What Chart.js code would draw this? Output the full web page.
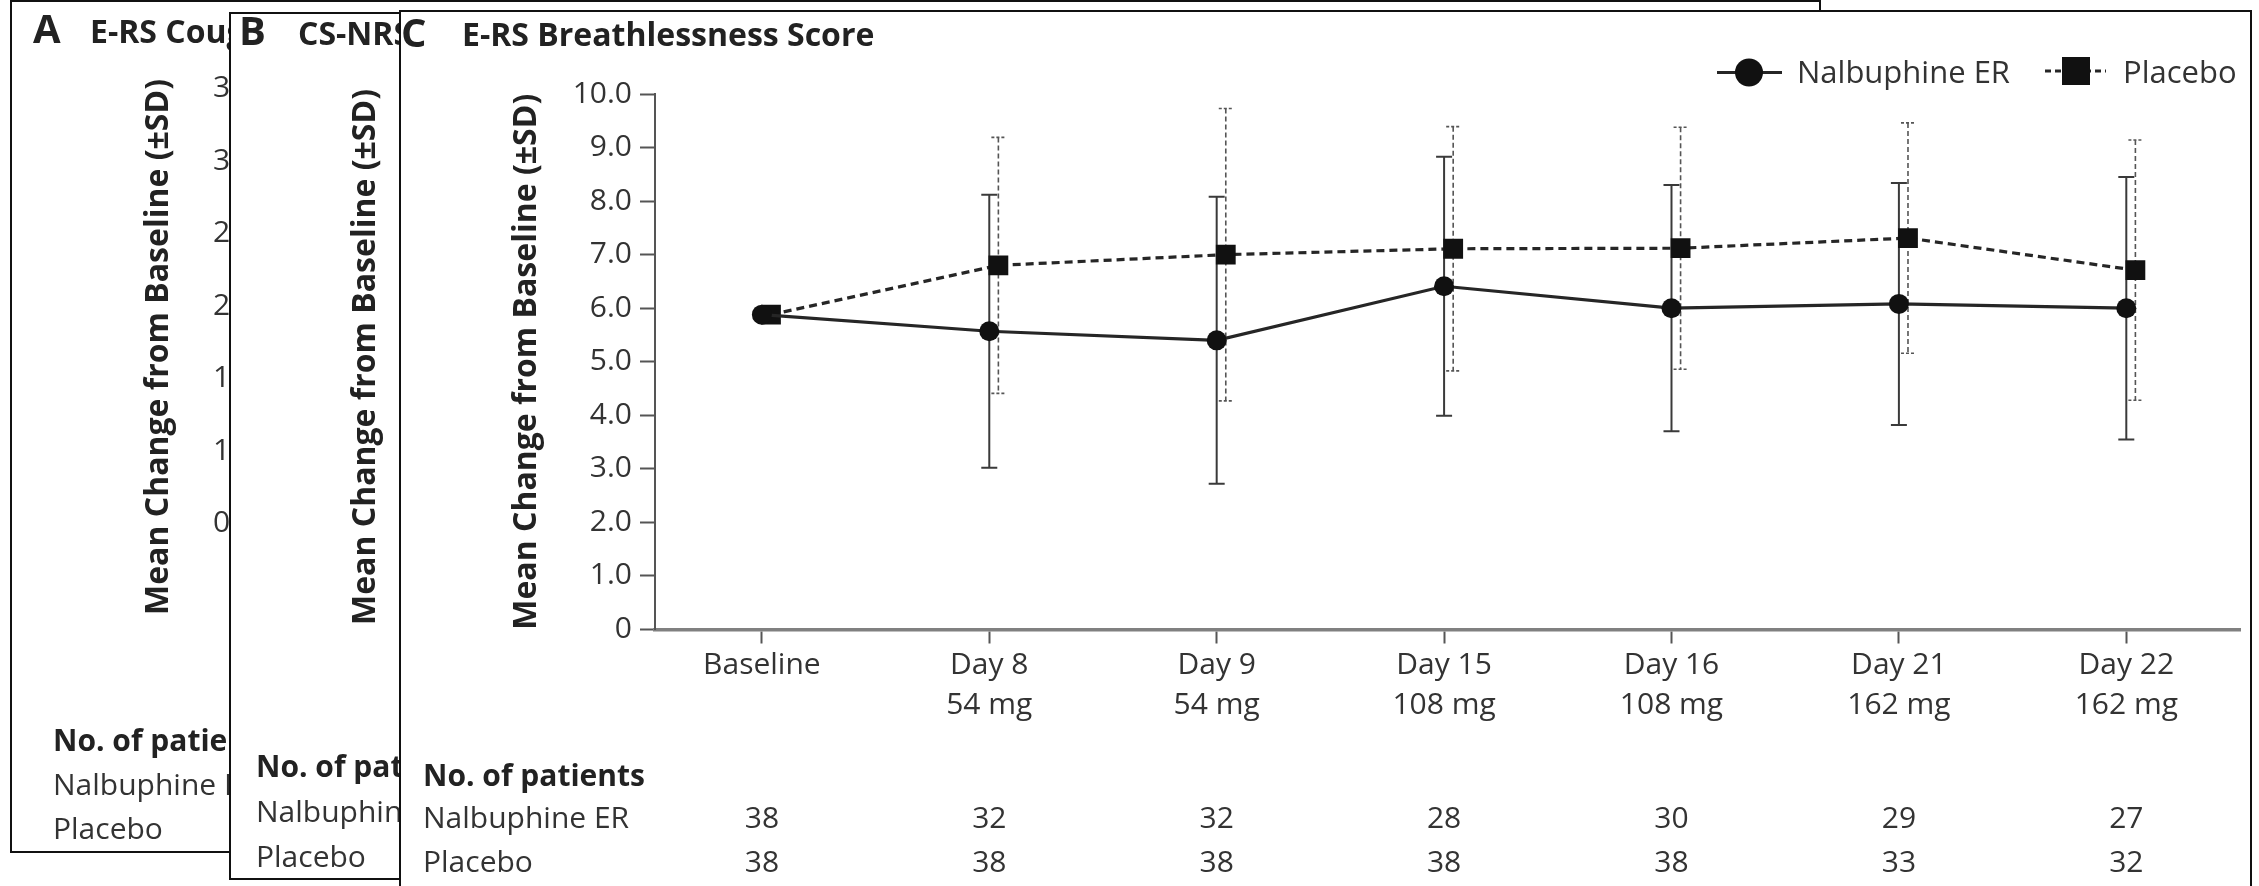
<!DOCTYPE html>
<html>
<head>
<meta charset="utf-8">
<script src="https://cdn.jsdelivr.net/npm/chart.js@4.4.1/dist/chart.umd.min.js"></script>
<style>
  html, body { margin: 0; padding: 0; background: #fff; overflow: hidden; }
  canvas { display: block; }
</style>
</head>
<body>
<canvas id="chart" width="2259" height="886"></canvas>
<script>
// ---- Data -------------------------------------------------------------
const visits = ['Baseline', 'Day 8', 'Day 9', 'Day 15', 'Day 16', 'Day 21', 'Day 22'];
const doses = ['', '54 mg', '54 mg', '108 mg', '108 mg', '162 mg', '162 mg'];

const seriesNames = ['Nalbuphine ER', 'Placebo'];
const nalbuphineMean = [5.88, 5.57, 5.40, 6.41, 6.00, 6.08, 6.00];
const nalbuphineSD   = [null, 2.55, 2.68, 2.42, 2.30, 2.26, 2.45];
const placeboMean    = [5.88, 6.80, 7.00, 7.11, 7.12, 7.31, 6.71];
const placeboSD      = [null, 2.39, 2.73, 2.28, 2.26, 2.15, 2.43];

const nalbuphineN = [38, 32, 32, 28, 30, 29, 27];
const placeboN    = [38, 38, 38, 38, 38, 33, 32];

const yTickLabels = ['0', '1.0', '2.0', '3.0', '4.0', '5.0', '6.0', '7.0', '8.0', '9.0', '10.0'];
const coughTickLabels = ['3.5', '3.0', '2.5', '2.0', '1.5', '1.0', '0.5'];

const panelLetters = ['A', 'B', 'C'];
const panelTitles = ['E-RS Cough Score', 'CS-NRS', 'E-RS Breathlessness Score'];
const yAxisTitle = 'Mean Change from Baseline (\u00B1SD)';
const tableHeader = 'No. of patients';

// ---- Drawing helpers --------------------------------------------------
const FAMILY = '"Open Sans", "Noto Sans", sans-serif';
const INK = '#333';
const DARK = '#222';

function txt(ctx, s, x, y, o) {
  o = o || {};
  ctx.save();
  ctx.font = `${o.weight || 400} ${o.size || 30}px ${FAMILY}`;
  ctx.fillStyle = o.color || INK;
  ctx.textAlign = o.align || 'left';
  ctx.textBaseline = o.baseline || 'alphabetic';
  ctx.translate(x, y);
  if (o.rotate) ctx.rotate(o.rotate);
  ctx.fillText(s, 0, 0);
  ctx.restore();
}

function frame(ctx, x, y, w, h) {
  ctx.save();
  ctx.fillStyle = '#fff';
  ctx.fillRect(x, y, w, h);
  ctx.strokeStyle = '#111';
  ctx.lineWidth = 2;
  ctx.strokeRect(x, y, w, h);
  ctx.restore();
}

function patientRows(ctx, x, baselines) {
  txt(ctx, tableHeader, x, baselines[0], { weight: 700, color: DARK });
  txt(ctx, seriesNames[0], x, baselines[1]);
  txt(ctx, seriesNames[1], x, baselines[2]);
}

// Stacked panels A and B sit behind panel C; each white frame hides what lies under it.
const panelsPlugin = {
  id: 'panels',
  beforeDraw(chart) {
    const ctx = chart.ctx;
    ctx.save();
    ctx.fillStyle = '#fff';
    ctx.fillRect(0, 0, chart.width, chart.height);

    // Panel A
    frame(ctx, 11, 1, 1809, 851);
    txt(ctx, panelLetters[0], 33, 43, { size: 40, weight: 700, color: DARK });
    txt(ctx, panelTitles[0], 90, 43, { size: 32, weight: 700, color: DARK });
    txt(ctx, yAxisTitle, 167.5, 347, { size: 32, weight: 700, color: DARK, align: 'center', rotate: -Math.PI / 2 });
    coughTickLabels.forEach((t, i) => txt(ctx, t, 213, 86.5 + 72.5 * i + 10.7));
    patientRows(ctx, 53, [751, 795, 839]);

    // Panel B
    frame(ctx, 230, 13, 600, 866);
    txt(ctx, panelLetters[1], 239, 45, { size: 40, weight: 700, color: DARK });
    txt(ctx, panelTitles[1], 298, 45, { size: 32, weight: 700, color: DARK });
    txt(ctx, yAxisTitle, 375, 357, { size: 32, weight: 700, color: DARK, align: 'center', rotate: -Math.PI / 2 });
    patientRows(ctx, 256, [777, 822, 867]);

    // Panel C
    frame(ctx, 400, 11, 1851, 900);
    txt(ctx, panelLetters[2], 401, 47, { size: 40, weight: 700, color: DARK });
    txt(ctx, panelTitles[2], 462, 46, { size: 32, weight: 700, color: DARK });
    ctx.restore();
  }
};

// Vertical ±SD bars with caps, drawn under the lines and markers
const errorBarPlugin = {
  id: 'errorBars',
  beforeDatasetsDraw(chart) {
    const { ctx, scales: { x, y } } = chart;
    chart.data.datasets.forEach((ds) => {
      ctx.save();
      ctx.strokeStyle = ds.errorColor;
      ctx.lineWidth = ds.errorWidth;
      ds.data.forEach((pt, i) => {
        const sd = ds.sd[i];
        if (sd == null) return;
        const px = x.getPixelForValue(pt.x);
        const top = y.getPixelForValue(pt.y + sd);
        const bot = y.getPixelForValue(pt.y - sd);
        ctx.setLineDash(ds.errorDash);
        ctx.beginPath();
        ctx.moveTo(px, top);
        ctx.lineTo(px, bot);
        ctx.stroke();
        ctx.setLineDash(ds.capDash);
        ctx.beginPath();
        ctx.moveTo(px - ds.capHalf, top); ctx.lineTo(px + ds.capHalf, top);
        ctx.moveTo(px - ds.capHalf, bot); ctx.lineTo(px + ds.capHalf, bot);
        ctx.stroke();
      });
      ctx.restore();
    });
  }
};

// Legend (line + marker) and the number-of-patients table under the axis
const legendTablePlugin = {
  id: 'legendTable',
  afterDraw(chart) {
    const { ctx, scales: { x } } = chart;
    ctx.save();
    // Nalbuphine ER key
    ctx.strokeStyle = '#262626';
    ctx.lineWidth = 3;
    ctx.setLineDash([]);
    ctx.beginPath(); ctx.moveTo(1717, 72.5); ctx.lineTo(1782, 72.5); ctx.stroke();
    ctx.fillStyle = '#111';
    ctx.beginPath(); ctx.arc(1749, 72.5, 14, 0, Math.PI * 2); ctx.fill();
    txt(ctx, seriesNames[0], 1797, 83, { size: 31 });

    // Placebo key
    ctx.setLineDash([6, 4]);
    ctx.beginPath(); ctx.moveTo(2045, 71); ctx.lineTo(2106, 71); ctx.stroke();
    ctx.setLineDash([]);
    ctx.fillRect(2062, 57, 28, 28);
    txt(ctx, seriesNames[1], 2123, 83, { size: 31 });
    ctx.restore();

    // Number of patients
    patientRows(ctx, 423, [786, 828, 872]);
    visits.forEach((_, i) => {
      const px = x.getPixelForValue(i);
      txt(ctx, String(nalbuphineN[i]), px, 828, { align: 'center' });
      txt(ctx, String(placeboN[i]), px, 872, { align: 'center' });
    });
  }
};

// ---- Chart -------------------------------------------------------------
const dodge = 0.04; // placebo markers sit just right of each visit

new Chart(document.getElementById('chart').getContext('2d'), {
  type: 'line',
  data: {
    datasets: [
      {
        label: seriesNames[0],
        data: nalbuphineMean.map((v, i) => ({ x: i, y: v })),
        sd: nalbuphineSD,
        borderColor: '#262626',
        borderWidth: 3.2,
        pointStyle: 'circle',
        pointRadius: 10,
        pointBackgroundColor: '#111',
        pointBorderColor: '#111',
        pointBorderWidth: 0,
        errorColor: '#3a3a3a', errorWidth: 2, errorDash: [], capDash: [], capHalf: 8
      },
      {
        label: seriesNames[1],
        data: placeboMean.map((v, i) => ({ x: i + dodge, y: v })),
        sd: placeboSD,
        borderColor: '#262626',
        borderWidth: 3.2,
        borderDash: [8, 5],
        pointStyle: 'rect',
        pointRadius: 14,
        pointBackgroundColor: '#111',
        pointBorderColor: '#111',
        pointBorderWidth: 0,
        errorColor: '#555', errorWidth: 1.6, errorDash: [5, 3], capDash: [3, 2], capHalf: 7
      }
    ]
  },
  options: {
    responsive: false,
    animation: false,
    devicePixelRatio: 1,
    layout: { padding: { left: 508, top: 94, right: 19, bottom: 0 } },
    plugins: { legend: { display: false }, tooltip: { enabled: false } },
    elements: { line: { tension: 0 } },
    scales: {
      x: {
        type: 'linear',
        min: -0.47,
        max: 6.5,
        afterBuildTicks: (s) => { s.ticks = visits.map((_, i) => ({ value: i })); },
        afterFit: (s) => { s.height = 256.5; },
        grid: { drawOnChartArea: false, drawTicks: true, tickLength: 14, tickWidth: 2, tickColor: '#555' },
        border: { display: true, color: '#808080', width: 3.5 },
        ticks: {
          autoSkip: false,
          maxRotation: 0,
          callback: (v) => doses[v] ? [visits[v], doses[v]] : visits[v],
          font: { family: FAMILY, size: 30, lineHeight: 1.33 },
          color: INK,
          padding: 2.5
        }
      },
      y: {
        min: 0,
        max: 10,
        afterFit: (s) => { s.width = 147; },
        grid: { drawOnChartArea: false, drawTicks: true, tickLength: 15, tickWidth: 2, tickColor: '#555' },
        border: { display: true, color: '#555', width: 2 },
        ticks: {
          stepSize: 1,
          callback: (v) => yTickLabels[v],
          font: { family: FAMILY, size: 30 },
          color: INK,
          padding: 8
        },
        title: {
          display: true,
          text: yAxisTitle,
          font: { family: FAMILY, size: 32, weight: 'bold' },
          color: DARK,
          padding: 0
        }
      }
    }
  },
  plugins: [panelsPlugin, errorBarPlugin, legendTablePlugin]
});
</script>
</body>
</html>
